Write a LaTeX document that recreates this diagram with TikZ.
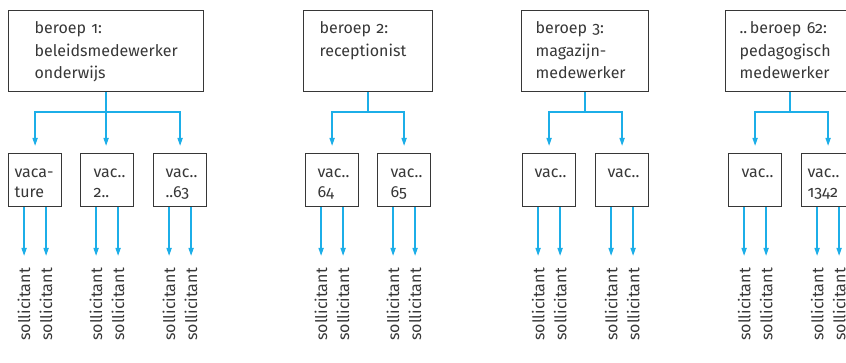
\documentclass[tikz,border=0pt]{standalone}
\usepackage{fontspec}
\setmainfont{Fira Sans}[Numbers=OldStyle]
\usetikzlibrary{arrows.meta}

\definecolor{lijnblauw}{RGB}{28,174,232}
\definecolor{kader}{RGB}{55,55,55}
\newcommand{\beroepfont}{\fontsize{16}{22.5}\selectfont\hyphenpenalty=10000\exhyphenpenalty=10000}
\newcommand{\vacfont}{\fontsize{16}{20}\selectfont\hyphenpenalty=10000\exhyphenpenalty=10000}

\tikzset{
  beroep/.style={draw=kader, line width=1.2pt, anchor=north west, align=left,
    inner ysep=0pt, text height=23pt, text depth=58pt, text=kader, font=\beroepfont},
  vac/.style={draw=kader, line width=1.2pt, anchor=north west, align=left,
    inner ysep=0pt, text height=24pt, text depth=29pt, text=kader, font=\vacfont},
  lijn/.style={color=lijnblauw, line width=1.5pt},
  pijl/.style={lijn, -{Triangle[width=5pt,length=8pt]}, shorten >=7pt},
  soll/.style={rotate=90, anchor=east, inner sep=0pt, text=kader, font=\vacfont}
}

\begin{document}
\begin{tikzpicture}[x=1pt, y=-1pt]
  \clip (0,0) rectangle (846,363);

  % Beroepen
  \node[beroep, text width=143pt, inner xsep=26pt] (b1) at (8,10) {beroep 1:\\beleidsmedewerker\\onderwijs};
  \node[beroep, text width=97pt, inner xsep=16pt] (b2) at (303,10) {beroep 2:\\receptionist};
  \node[beroep, text width=99pt, inner xsep=14pt] (b3) at (521,10) {beroep 3:\\magazijn\mbox{-}\\medewerker};
  \node[beroep, text width=101pt, inner xsep=14pt] (b4) at (725,10) {..\,beroep 62:\\pedagogisch\\medewerker};

  % Vacatures
  \foreach \naam/\x/\pad/\tekst in {v1a/8/6/{vaca\mbox{-}\\ture}, v1b/80/13/{vac..\\2..}, v1c/153/12/{vac..\\..63},
      v2a/305/12/{vac..\\64}, v2b/377/13/{vac..\\65},
      v3a/522/12/{vac..}, v3b/595/12/{vac..},
      v4a/728/13/{vac..}, v4b/801/6/{vac..\\1342}} {
    \pgfmathsetmacro\breedte{53-2*\pad}
    \node[vac, text width=\breedte pt, inner xsep=\pad pt] (\naam) at (\x,153) {\tekst};
  }

  % Van beroep naar vacature
  \draw[pijl] (b1.south) -- ++(0,20) coordinate (k1) -| (v1a.north);
  \draw[pijl] (k1) -| (v1c.north);
  \draw[pijl] (b1.south) -- (b1.south |- v1b.north);

  \draw[pijl] (b2.south) -- ++(0,20) coordinate (k2) -| (v2a.north);
  \draw[pijl] (k2) -| (v2b.north);

  \draw[pijl] (b3.south) -- ++(0,20) coordinate (k3) -| (v3a.north);
  \draw[pijl] (k3) -| (v3b.north);

  \draw[pijl] (b4.south) -- ++(0,20) coordinate (k4) -| (v4a.north);
  \draw[pijl] (k4) -| (v4b.north);

  % Sollicitanten
  \foreach \v in {v1a, v1b, v1c, v2a, v2b, v3a, v3b, v4a, v4b} {
    \foreach \dx/\k in {-11/1, 11/2} {
      \path ([xshift=\dx pt]\v.south) coordinate (\v o\k);
      \node[soll] (\v s\k) at (\v o\k |- 0,268) {sollicitant};
      \draw[pijl, shorten >=12pt] (\v o\k) -- (\v s\k);
    }
  }
\end{tikzpicture}
\end{document}
